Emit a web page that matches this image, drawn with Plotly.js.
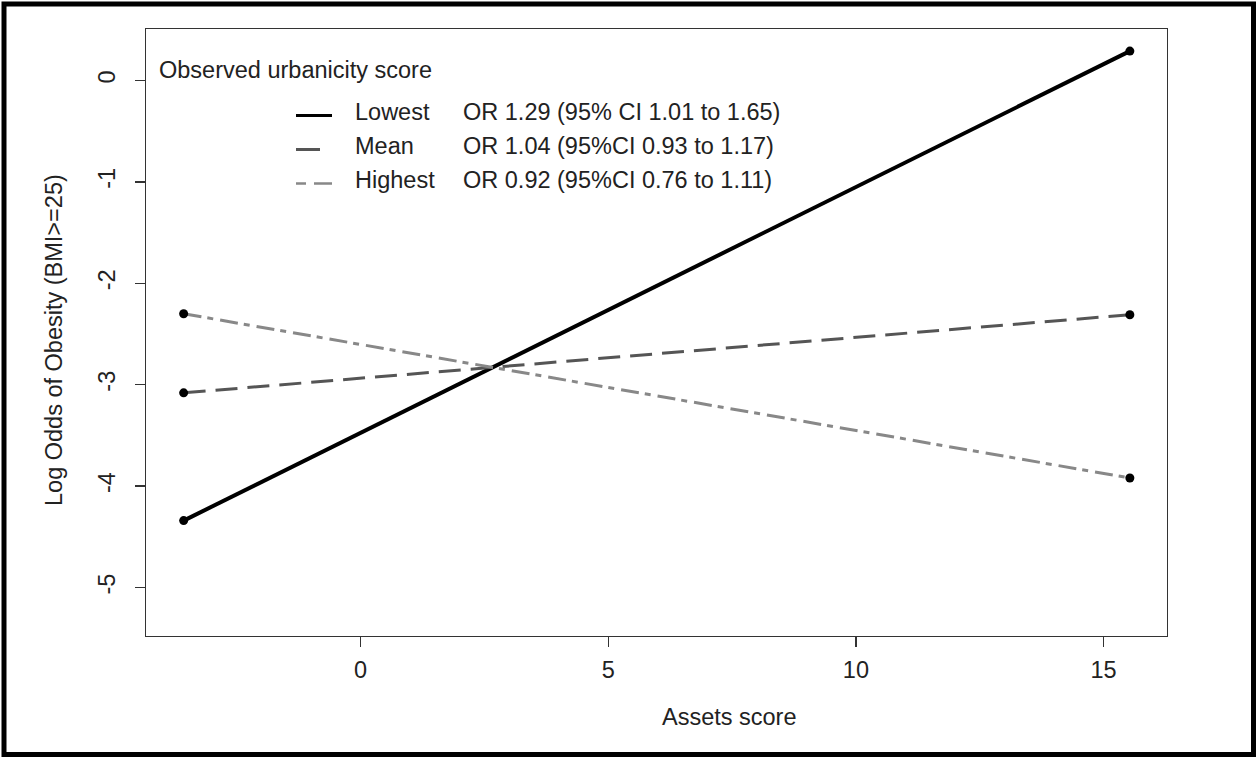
<!DOCTYPE html>
<html>
<head>
<meta charset="utf-8">
<script src="https://cdn.plot.ly/plotly-3.0.1.min.js"></script>
<style>html,body{margin:0;padding:0;background:#fff;}#chart{width:1256px;height:757px;}</style>
</head>
<body>
<div id="chart"></div>
<script>
// ---- data ----
const assetRange = [-3.57, 15.53];
const lowestLogOdds = [-4.34, 0.29];
const meanLogOdds = [-3.08, -2.31];
const highestLogOdds = [-2.30, -3.92];
const groupNames = ["Lowest", "Mean", "Highest"];
const orLabels = ["OR 1.29 (95% CI 1.01 to 1.65)", "OR 1.04 (95%CI 0.93 to 1.17)", "OR 0.92 (95%CI 0.76 to 1.11)"];
const legendTitle = "Observed urbanicity score";
const xTitle = "Assets score";
const yTitle = "Log Odds of Obesity (BMI>=25)";
const xTicks = [0, 5, 10, 15];
const yTicks = [-5, -4, -3, -2, -1, 0];

// ---- layout geometry ----
const W = 1256, H = 757;
const M = {l: 146, r: 89, t: 29, b: 121};
const PW = W - M.l - M.r, PH = H - M.t - M.b;
const px = x => (x - M.l) / PW;
const py = y => (H - M.b - y) / PH;
const FONT = '"Liberation Sans", Arial, Helvetica, sans-serif';
const FS = 23.5;
const TXT = '#222';

const styles = [
  {color: '#000000', width: 4, dash: 'solid', legDash: 'solid', legW: 3},
  {color: '#555555', width: 3, dash: '22px,10px', legDash: '24px,14px', legW: 3},
  {color: '#888888', width: 3, dash: '18px,6px,6px,7px', legDash: '10px,8px,18px,10px', legW: 2.5}
];
const series = [lowestLogOdds, meanLogOdds, highestLogOdds];

const traces = [];
series.forEach((ys, i) => {
  traces.push({
    x: assetRange, y: ys, type: 'scatter', mode: 'lines', name: groupNames[i],
    line: {color: styles[i].color, width: styles[i].width, dash: styles[i].dash},
    showlegend: false, hoverinfo: 'skip'
  });
});
series.forEach((ys, i) => {
  traces.push({
    x: assetRange, y: ys, type: 'scatter', mode: 'markers', name: groupNames[i] + ' points',
    marker: {color: '#000', size: 9}, showlegend: false, hoverinfo: 'skip'
  });
});

const rowY = [115.5, 149.5, 183.5];
const annotations = [];
const shapes = [];
annotations.push({xref: 'paper', yref: 'paper', x: px(157), y: py(70), xanchor: 'left', yanchor: 'middle',
  text: legendTitle, showarrow: false, font: {family: FONT, size: FS, color: TXT}});
groupNames.forEach((n, i) => {
  annotations.push({xref: 'paper', yref: 'paper', x: px(353), y: py(rowY[i] - 4), xanchor: 'left', yanchor: 'middle',
    text: n, showarrow: false, font: {family: FONT, size: FS, color: TXT}});
  annotations.push({xref: 'paper', yref: 'paper', x: px(461), y: py(rowY[i] - 4), xanchor: 'left', yanchor: 'middle',
    text: orLabels[i], showarrow: false, font: {family: FONT, size: FS, color: TXT}});
  shapes.push({type: 'line', xref: 'paper', yref: 'paper', x0: px(296), x1: px(332), y0: py(rowY[i]), y1: py(rowY[i]),
    line: {color: styles[i].color, width: styles[i].legW, dash: styles[i].legDash}});
});
// axis titles
annotations.push({xref: 'paper', yref: 'paper', x: px(729), y: py(717), xanchor: 'center', yanchor: 'middle',
  text: xTitle, showarrow: false, font: {family: FONT, size: FS, color: TXT}});
annotations.push({xref: 'paper', yref: 'paper', x: px(54), y: py(508), xanchor: 'center', yanchor: 'bottom',
  textangle: -90, text: yTitle, showarrow: false, font: {family: FONT, size: FS, color: TXT}});
// outer frame
shapes.push({type: 'rect', xref: 'paper', yref: 'paper', x0: px(4), x1: px(1253.5), y0: py(754.5), y1: py(4),
  line: {color: '#000', width: 5}, fillcolor: 'rgba(0,0,0,0)', layer: 'above'});

const layout = {
  width: W, height: H,
  margin: M,
  paper_bgcolor: '#fff', plot_bgcolor: '#fff',
  showlegend: false,
  font: {family: FONT, size: FS, color: TXT},
  xaxis: {
    range: [-4.33, 16.28], tickvals: xTicks, ticktext: xTicks.map(String),
    showgrid: false, zeroline: false, showline: true, mirror: true, linecolor: '#333', linewidth: 1.3,
    ticks: 'outside', ticklen: 10, tickcolor: '#333', tickwidth: 1.3, ticklabelstandoff: 2,
    tickfont: {family: FONT, size: FS, color: TXT}
  },
  yaxis: {
    range: [-5.478, 0.508], tickvals: yTicks, ticktext: yTicks.map(String),
    showgrid: false, zeroline: false, showline: true, mirror: true, linecolor: '#333', linewidth: 1.3,
    ticks: 'outside', ticklen: 10, tickcolor: '#333', tickwidth: 1.3, tickangle: -90, ticklabelstandoff: 10,
    tickfont: {family: FONT, size: FS, color: TXT}
  },
  annotations: annotations,
  shapes: shapes
};

Plotly.newPlot('chart', traces, layout, {displayModeBar: false, staticPlot: true});
</script>
</body>
</html>
